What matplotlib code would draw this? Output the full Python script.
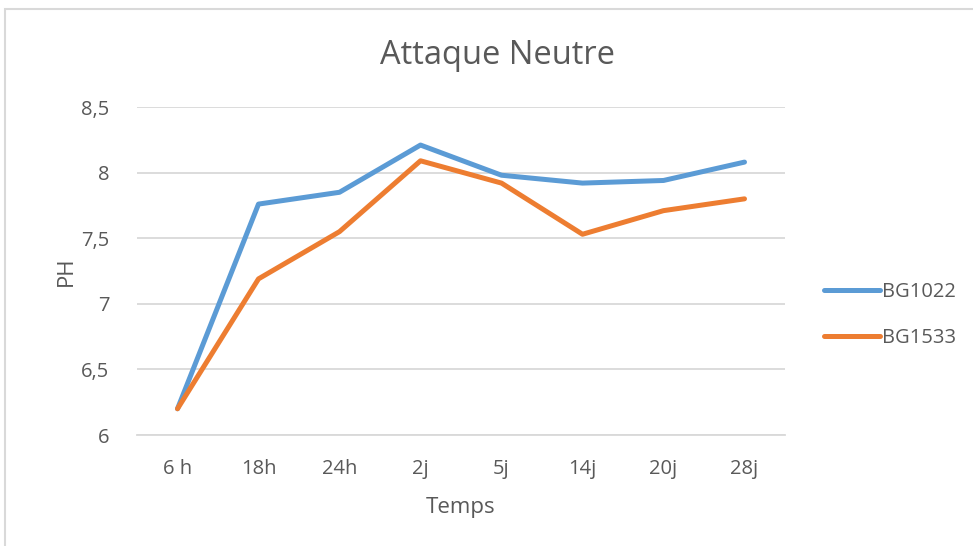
# Attaque Neutre - pH vs temps
import matplotlib
matplotlib.use('Agg')
import matplotlib.pyplot as plt
from matplotlib.patches import Rectangle

temps = ['6 h', '18h', '24h', '2j', '5j', '14j', '20j', '28j']
bg1022 = [6.2, 7.76, 7.85, 8.21, 7.98, 7.92, 7.94, 8.08]
bg1533 = [6.2, 7.19, 7.55, 8.09, 7.92, 7.53, 7.71, 7.80]
y_ticks = [6, 6.5, 7, 7.5, 8, 8.5]
y_labels = ['6', '6,5', '7', '7,5', '8', '8,5']

txt = '#595959'
plt.rcParams['font.family'] = ['Open Sans', 'DejaVu Sans']

fig = plt.figure(figsize=(9.73, 5.46), dpi=100)
ax = fig.add_axes([137 / 973, 111 / 546, 648 / 973, 328 / 546])

x = list(range(len(temps)))
ax.plot(x, bg1022, color='#5B9BD5', lw=3.6, solid_capstyle='round',
        solid_joinstyle='round', label='BG1022')
ax.plot(x, bg1533, color='#ED7D31', lw=3.6, solid_capstyle='round',
        solid_joinstyle='round', label='BG1533')

ax.set_xlim(-0.5, len(temps) - 0.5)
ax.set_ylim(6, 8.5)
ax.set_xticks(x)
ax.set_xticklabels(temps)
ax.set_yticks(y_ticks)
ax.set_yticklabels(y_labels)
ax.tick_params(length=0, labelsize=14.5, colors=txt)
ax.tick_params(axis='x', pad=17)
ax.tick_params(axis='y', pad=20)
ax.grid(axis='y', color='#D9D9D9', lw=1.3)
ax.set_axisbelow(True)
for s in ['top', 'right', 'left']:
    ax.spines[s].set_visible(False)
ax.spines['bottom'].set_color('#D9D9D9')
ax.spines['bottom'].set_linewidth(1.3)

ax.set_xlabel('Temps', fontsize=16, color=txt, labelpad=13)
ax.set_ylabel('PH', fontsize=16, color=txt, labelpad=3)
fig.text(497 / 973, 1 - 55 / 546, 'Attaque Neutre', fontsize=23.5, color=txt,
         ha='center', va='center')

leg = fig.legend(*ax.get_legend_handles_labels(), loc='center left',
                 bbox_to_anchor=(824 / 973, 1 - 315 / 546), frameon=False,
                 fontsize=14.5, handlelength=2.8, handletextpad=0.1,
                 labelspacing=1.3, borderpad=0, borderaxespad=0,
                 labelcolor=txt)
for h in leg.get_lines():
    h.set_solid_capstyle('round')

fig.patches.append(Rectangle((5 / 973, -0.1), 1.2, 1 - 9 / 546 + 0.1,
                             transform=fig.transFigure, fill=False,
                             ec='#D9D9D9', lw=1.5))

fig.savefig('out.png', dpi=100)
